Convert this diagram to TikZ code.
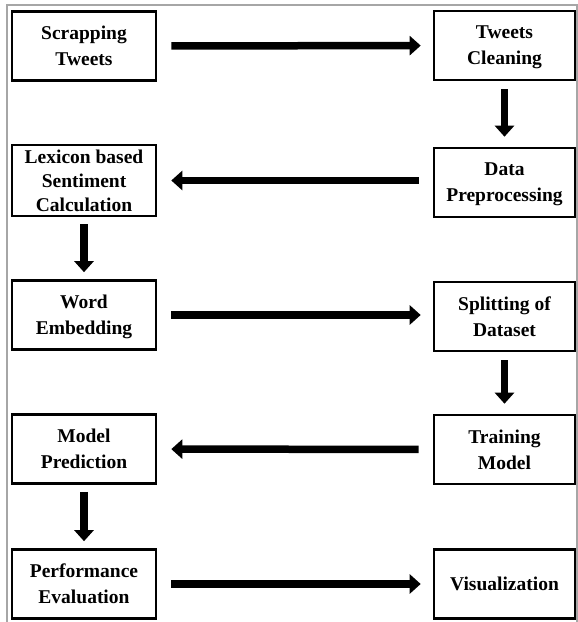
\documentclass[tikz,border=0pt]{standalone}
\usepackage{fontspec}
\setmainfont{Liberation Serif}
\usetikzlibrary{arrows.meta}

\begin{document}
\begin{tikzpicture}[x=1pt, y=1pt,
  stage/.style={draw, line width=2.6pt, inner sep=0pt, align=center,
    minimum width=144pt, minimum height=69pt, text depth=0pt,
    font=\bfseries\fontsize{19.5}{26}\selectfont},
  flow/.style={line width=7.5pt, -{Triangle[length=11pt, width=19pt]}}]
  \useasboundingbox (0,0) rectangle (578,-622);

  % frame
  \draw[gray!70, line width=1.2pt] (7,-640) -- (7,-5) -- (577,-5) -- (577,-640);

  \def\xl{84}
  \def\xr{504.5}

  % left column
  \node[stage] (scrap)   at (\xl,-46)  {Scrapping\\Tweets};
  \node[stage, minimum height=71pt,
        font=\bfseries\fontsize{19.5}{24}\selectfont]
                 (lexicon) at (\xl,-180.5) {Lexicon based\\Sentiment\\Calculation};
  \node[stage] (embed)   at (\xl,-315) {Word\\Embedding};
  \node[stage] (predict) at (\xl,-449) {Model\\Prediction};
  \node[stage] (perf)    at (\xl,-584) {Performance\\Evaluation};

  % right column
  \node[stage, minimum width=141pt] (clean) at (\xr,-45.5)  {Tweets\\Cleaning};
  \node[stage, minimum width=141pt] (prep)  at (\xr,-182.5) {Data\\Preprocessing};
  \node[stage, minimum width=141pt] (split) at (\xr,-316.5) {Splitting of\\Dataset};
  \node[stage, minimum width=141pt] (train) at (\xr,-449.5) {Training\\Model};
  \node[stage, minimum width=141pt] (visual) at (\xr,-584)  {Visualization};

  % arrows between stages
  \draw[flow, shorten <=14pt, shorten >=12pt] (scrap) -- (clean);
  \draw[flow, shorten <=8pt, shorten >=10pt] (clean) -- (prep);
  \draw[flow, shorten <=14pt, shorten >=14pt] (prep.west |- lexicon) -- (lexicon);
  \draw[flow, shorten <=7pt, shorten >=7pt] (lexicon) -- (embed);
  \draw[flow, shorten <=14pt, shorten >=12pt] (embed) -- (split.west |- embed);
  \draw[flow, shorten <=8pt, shorten >=10pt] (split) -- (train);
  \draw[flow, shorten <=14pt, shorten >=14pt] (train) -- (predict);
  \draw[flow, shorten <=7pt, shorten >=7pt] (predict) -- (perf);
  \draw[flow, shorten <=14pt, shorten >=12pt] (perf) -- (visual);
\end{tikzpicture}
\end{document}
